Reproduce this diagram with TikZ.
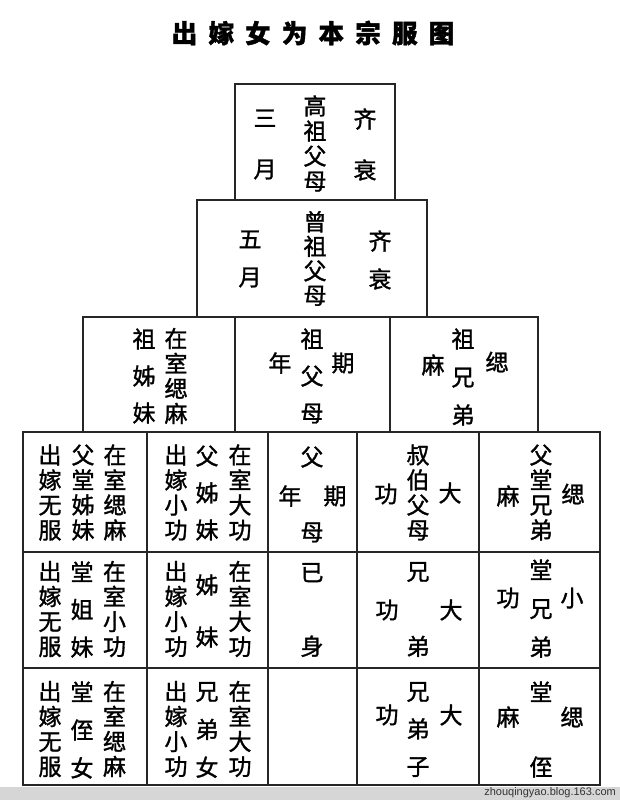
\documentclass[tikz,border=0pt]{standalone}
\usepackage{fontspec}
\newfontfamily\cjk[FakeBold=1.3]{Noto Sans CJK SC}
\newfontfamily\cjkt{Noto Sans CJK SC}
\newfontfamily\wmfont{Liberation Sans}

\begin{document}
\begin{tikzpicture}[x=1pt,y=-1pt,
  grid/.style={draw=black!85,line width=1.7pt},
  zi/.style={font=\cjk\fontsize{23}{#1}\selectfont,inner sep=0pt,align=center},
  zi/.default=25]
  \useasboundingbox (0,0) rectangle (620,800);

  % title
  \node[font=\cjkt\bfseries\fontsize{25.5}{25.5}\selectfont\addfontfeature{LetterSpace=44,FakeBold=1.5},inner sep=0pt] (title) at (313,33) {出嫁女为本宗服图};

  % boxes
  \draw[grid] (235,84) rectangle (395,200);
  \draw[grid] (197,200) rectangle (427,317);
  \draw[grid] (83,317) rectangle (538,432);
  \draw[grid] (235,317) -- (235,432) (390,317) -- (390,432);
  \draw[grid] (23,432) rectangle (600,785);
  \draw[grid] (23,552) -- (600,552) (23,668) -- (600,668);
  \foreach \x in {147,268,357,479} \draw[grid] (\x,432) -- (\x,785);

  % top two boxes
  \node[zi=51] (b1l) at (265,144.5) {三\\月};
  \node[zi] (b1m) at (315,143.5) {高\\祖\\父\\母};
  \node[zi=51] (b1r) at (365,144.5) {齐\\衰};
  \node[zi=38] (b2l) at (250,259) {五\\月};
  \node[zi=24.5] (b2m) at (315,258.5) {曾\\祖\\父\\母};
  \node[zi=38] (b2r) at (380,260) {齐\\衰};

  % grandparents row
  \node[zi=37] (c1a) at (144,376) {祖\\姊\\妹};
  \node[zi] (c1b) at (176,376) {在\\室\\缌\\麻};
  \node[zi=37] (c2m) at (312,376) {祖\\父\\母};
  \node[zi] (c2l) at (280,363) {年};
  \node[zi] (c2r) at (343,363) {期};
  \node[zi=38] (c3m) at (463,377) {祖\\兄\\弟};
  \node[zi] (c3l) at (433,365) {麻};
  \node[zi] (c3r) at (497,362) {缌};

  % parents row
  \node[zi] (d1a) at (50,492.5) {出\\嫁\\无\\服};
  \node[zi] (d1b) at (83,492.5) {父\\堂\\姊\\妹};
  \node[zi] (d1c) at (115,492.5) {在\\室\\缌\\麻};
  \node[zi] (d2a) at (176,492.5) {出\\嫁\\小\\功};
  \node[zi=37] (d2b) at (207,493) {父\\姊\\妹};
  \node[zi] (d2c) at (240,492.5) {在\\室\\大\\功};
  \node[zi=75] (d3m) at (312,494.5) {父\\母};
  \node[zi] (d3l) at (290,496) {年};
  \node[zi] (d3r) at (335,496) {期};
  \node[zi] (d4m) at (418,492.5) {叔\\伯\\父\\母};
  \node[zi] (d4l) at (386,494) {功};
  \node[zi] (d4r) at (450,493) {大};
  \node[zi] (d5m) at (541,492.5) {父\\堂\\兄\\弟};
  \node[zi] (d5l) at (508,496) {麻};
  \node[zi] (d5r) at (573,494) {缌};

  % own row
  \node[zi] (e1a) at (50,609) {出\\嫁\\无\\服};
  \node[zi=37.5] (e1b) at (82,609.5) {堂\\姐\\妹};
  \node[zi] (e1c) at (114.5,609) {在\\室\\小\\功};
  \node[zi] (e2a) at (176,609) {出\\嫁\\小\\功};
  \node[zi=52] (e2b) at (207,611) {姊\\妹};
  \node[zi] (e2c) at (240,609) {在\\室\\大\\功};
  \node[zi=74] (e3m) at (312,610) {已\\身};
  \node[zi=75] (e4m) at (418,609.5) {兄\\弟};
  \node[zi] (e4l) at (387,610) {功};
  \node[zi] (e4r) at (451,610) {大};
  \node[zi=38.5] (e5m) at (541,608.5) {堂\\兄\\弟};
  \node[zi] (e5l) at (508,598) {功};
  \node[zi] (e5r) at (572,598) {小};

  % children row
  \node[zi] (f1a) at (50,729) {出\\嫁\\无\\服};
  \node[zi=38] (f1b) at (82,730) {堂\\侄\\女};
  \node[zi] (f1c) at (114.5,729) {在\\室\\缌\\麻};
  \node[zi] (f2a) at (176,729) {出\\嫁\\小\\功};
  \node[zi=38] (f2b) at (207,730) {兄\\弟\\女};
  \node[zi] (f2c) at (240,729) {在\\室\\大\\功};
  \node[zi=37.5] (f4m) at (418,729.5) {兄\\弟\\子};
  \node[zi] (f4l) at (387,715) {功};
  \node[zi] (f4r) at (451,715) {大};
  \node[zi=75] (f5m) at (541,729.5) {堂\\侄};
  \node[zi] (f5l) at (508,717) {麻};
  \node[zi] (f5r) at (572,717) {缌};

  % footer strip
  \fill[black!16] (0,787) rectangle (620,800);
  \node[anchor=east,font=\wmfont\fontsize{11}{11}\selectfont,text=black!80,inner sep=0pt] (wm) at (616,793) {zhouqingyao.blog.163.com};
\end{tikzpicture}
\end{document}
